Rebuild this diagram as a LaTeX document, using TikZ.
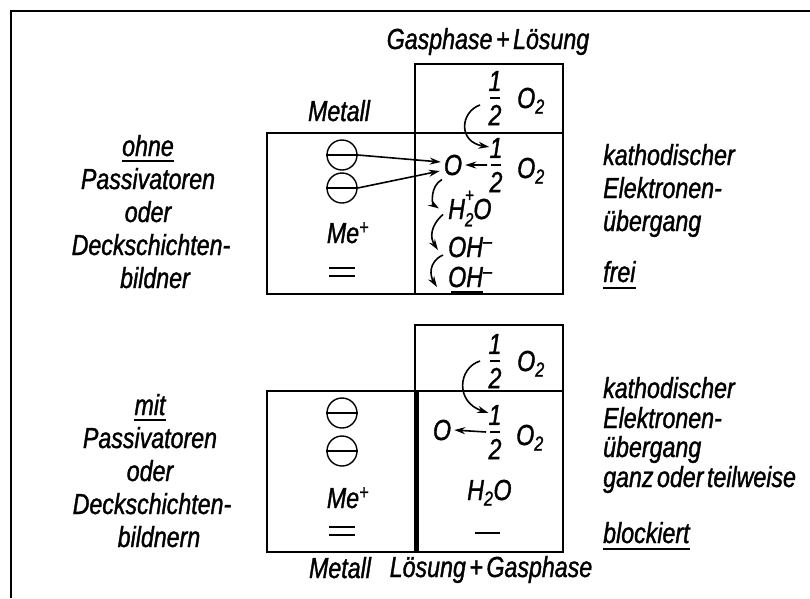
\documentclass[tikz,border=0pt]{standalone}
\usepackage{fontspec}
\setmainfont{Liberation Sans}[FakeStretch=0.8, FakeBold=1.2, WordSpace=0.55]
\usetikzlibrary{arrows.meta}
\tikzset{
  txt/.style={inner sep=0pt, font=\fontsize{29}{32}\selectfont\itshape},
  ln/.style={line width=1.7pt},
  uline/.style={line width=1.4pt},
  arr/.style={line width=1.6pt, -{Stealth[length=11pt,width=7pt]}},
  minus/.style={draw, circle, minimum size=30pt, inner sep=0pt, line width=1.4pt},
  half/.pic={
    \node[txt] (-n) at (0,-17) {1};
    \coordinate (-bar) at (0,0);
    \draw[line width=1.4pt] (-5,0) -- (5,0);
    \node[txt] (-d) at (0,17) {2};
  }
}
\newcommand{\smallidx}[1]{{\fontsize{19}{19}\selectfont #1}}
\begin{document}
\begin{tikzpicture}[x=1pt,y=-1pt]
\useasboundingbox (0,0) rectangle (810,598);
% frame
\draw[line width=2.2pt] (810,11) -- (11,11) -- (11,598);

% ================= top diagram =================
\node[txt, anchor=base] (gl) at (488,49) {Gasphase + Lösung};
\node[txt, anchor=base] (metA) at (339,121) {Metall};
\draw[ln] (415,133) -- (415,64) -- (563,64) -- (563,133);
\draw[ln] (267,133) rectangle (563,294);
\draw[ln] (415,133) -- (415,294);

\node[minus] (c1) at (342,155) {};
\draw[line width=1.4pt] (c1.west) -- (c1.east);
\node[minus] (c2) at (342,188) {};
\draw[line width=1.4pt] (c2.west) -- (c2.east);
\node[txt, anchor=base] (meA) at (348,243) {Me\textsuperscript{+}};
\draw[line width=1.5pt] (329,268) -- (355,268) (329,276) -- (355,276);

\node[txt, anchor=base] (oA) at (453,175) {O};
\draw[arr] (c1.east) -- ([xshift=-3pt,yshift=3pt]oA.west);
\draw[arr] (c2.east) -- ([xshift=-4pt,yshift=-6pt]oA.west);

\pic (hA) at (495,98) {half};
\node[txt, anchor=base west] (o2A) at (517,108) {O\textsubscript{2}};
\pic (hB) at (496,165) {half};
\node[txt, anchor=base west] (o2B) at (517,178) {O\textsubscript{2}};
\draw[arr] ([xshift=-9pt]hB-bar) -- ([xshift=3pt]oA.east);
\draw[arr] ([xshift=-15pt,yshift=-7pt]hA-bar) .. controls (460,112) and (458,142) .. ([xshift=-9pt,yshift=-9pt]hB-n);

\node[txt, anchor=base west] (h2o) at (448,219) {H\rlap{\raisebox{0.6em}{\smallidx{+}}}\raisebox{-0.25em}{\smallidx{2}}O};
\node[txt, anchor=base west] (ohA) at (448,257) {OH\textsuperscript{--}};
\node[txt, anchor=base west] (ohB) at (448,287) {OH\textsuperscript{--}};
\draw[uline] (451,292) -- (483,292);

\draw[arr] ([xshift=-11pt,yshift=-4pt]oA.south) .. controls (430,186) and (432,204) .. ([xshift=-9pt]h2o.west);
\draw[arr] ([xshift=-5pt,yshift=-6pt]h2o.west) .. controls (430,226) and (430,238) .. ([xshift=-10pt,yshift=-3pt]ohA.west);
\draw[arr] ([xshift=-5pt,yshift=-8pt]ohA.west) .. controls (428,262) and (430,276) .. ([xshift=-11pt,yshift=-10pt]ohB.west);

% left text top
\node[txt, anchor=base] (l1) at (148,156) {ohne};
\draw[uline] ([yshift=-5pt]l1.base west) -- ([yshift=-5pt]l1.base east);
\node[txt, anchor=base] (l2) at (148,189) {Passivatoren};
\node[txt, anchor=base] (l3) at (148,222) {oder};
\node[txt, anchor=base] (l4) at (151,255) {Deckschichten-};
\node[txt, anchor=base] (l5) at (155,288) {bildner};

% right text top
\node[txt, anchor=base west] (r1) at (603,165) {kathodischer};
\node[txt, anchor=base west] (r2) at (603,198) {Elektronen-};
\node[txt, anchor=base west] (r3) at (603,231) {übergang};
\node[txt, anchor=base west] (r4) at (603,282) {frei};
\draw[uline] ([yshift=-6pt]r4.base west) -- ([yshift=-6pt]r4.base east);

% ================= bottom diagram =================
\draw[ln] (415,391) -- (415,325) -- (563,325) -- (563,391);
\draw[ln] (267,391) rectangle (563,552);
\draw[line width=5pt] (416,391) -- (416,552);

\node[minus] (c3) at (342,413) {};
\draw[line width=1.4pt] (c3.west) -- (c3.east);
\node[minus] (c4) at (342,451) {};
\draw[line width=1.4pt] (c4.west) -- (c4.east);
\node[txt, anchor=base] (meB) at (348,508) {Me\textsuperscript{+}};
\draw[line width=1.5pt] (329,527) -- (355,527) (329,535) -- (355,535);

\pic (hC) at (495,361) {half};
\node[txt, anchor=base west] (o2C) at (517,371) {O\textsubscript{2}};
\pic (hD) at (495,432) {half};
\node[txt, anchor=base west] (o2D) at (516,445) {O\textsubscript{2}};
\node[txt, anchor=base] (oB) at (442,440) {O};
\draw[arr] ([xshift=-9pt]hD-bar) -- ([xshift=3pt]oB.east);
\draw[arr] ([xshift=-15pt]hC-bar) .. controls (458,368) and (455,402) .. ([xshift=-11pt,yshift=-8pt]hD-n);

\node[txt, anchor=base west] (h2oB) at (467,500) {H\textsubscript{2}O};
\draw[line width=1.5pt] (475,533) -- (500,533);

\node[txt, anchor=base] (metB) at (340,578) {Metall};
\node[txt, anchor=base] (lg) at (491,577) {Lösung + Gasphase};

% left text bottom
\node[txt, anchor=base] (m1) at (150,415) {mit};
\draw[uline] ([yshift=-5pt]m1.base west) -- ([yshift=-5pt]m1.base east);
\node[txt, anchor=base] (m2) at (150,448) {Passivatoren};
\node[txt, anchor=base] (m3) at (150,481) {oder};
\node[txt, anchor=base] (m4) at (152,514) {Deckschichten-};
\node[txt, anchor=base] (m5) at (159,547) {bildnern};

% right text bottom
\node[txt, anchor=base west] (s1) at (603,398) {kathodischer};
\node[txt, anchor=base west] (s2) at (603,428) {Elektronen-};
\node[txt, anchor=base west] (s3) at (603,457) {übergang};
\node[txt, anchor=base west] (s4) at (603,487) {ganz oder teilweise};
\node[txt, anchor=base west] (s5) at (603,543) {blockiert};
\draw[uline] ([yshift=-6pt]s5.base west) -- ([yshift=-6pt]s5.base east);
\end{tikzpicture}
\end{document}
